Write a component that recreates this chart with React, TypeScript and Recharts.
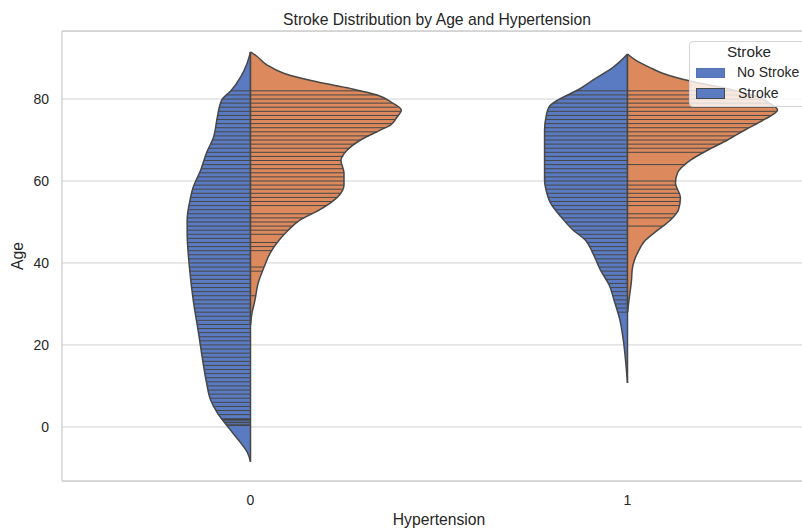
import React from "react";
import { ComposedChart, Area, XAxis, YAxis, CartesianGrid, ReferenceLine, Legend } from "recharts";

const FONT = '"Liberation Sans", Arial, Helvetica, sans-serif';
const INK = "#262626";
const BLUE = "#5a7bc2";
const ORANGE = "#dc8a5d";
const EDGE = "#474747";
const SPINE = "#cccccc";

const HYPERTENSION = [0, 1];
const AGE_TICKS = [0, 20, 40, 60, 80];
const AGE_RANGE: [number, number] = [-13.2, 96.6];
const STROKE_LABELS = ["No Stroke", "Stroke"];

// kde outline of each half violin (age, relative density)
const H0_NO_AGES = [-8.5, -6.3, -3.2, 0, 3.4, 6.6, 10.5, 14.6, 23, 31, 39, 47.3, 50.5, 54.6, 58.5, 62.7, 67, 70.7, 75.6, 79.8, 82, 85.4, 88.5, 91.5];
const H0_NO_DENSITY = [0, 0.02, 0.08, 0.15, 0.22, 0.265, 0.29, 0.31, 0.345, 0.38, 0.405, 0.42, 0.42, 0.405, 0.38, 0.33, 0.29, 0.245, 0.22, 0.19, 0.13, 0.065, 0.025, 0];

const H0_YES_AGES = [25, 27.8, 31, 35, 39, 42.4, 45.6, 48, 50.5, 53, 55.2, 56.6, 59, 62, 65, 67.5, 70, 72.4, 73.7, 75.5, 77.3, 79.3, 81, 82.6, 84.2, 86.3, 88.3, 90.5, 91.5];
const H0_YES_DENSITY = [0, 0.01, 0.03, 0.05, 0.09, 0.13, 0.19, 0.25, 0.33, 0.46, 0.55, 0.59, 0.62, 0.62, 0.6, 0.64, 0.73, 0.86, 0.93, 0.97, 1.0, 0.93, 0.84, 0.66, 0.44, 0.22, 0.11, 0.04, 0];

const H1_NO_AGES = [10.7, 16.3, 21, 26, 31, 34.5, 38.3, 42.4, 45.6, 48, 51.2, 54.6, 57.8, 60.2, 64, 68, 72.4, 75.7, 78.1, 79.8, 82.2, 84.6, 87.9, 89.5, 91];
const H1_NO_DENSITY = [0, 0.013, 0.027, 0.05, 0.09, 0.12, 0.18, 0.23, 0.28, 0.36, 0.44, 0.51, 0.54, 0.55, 0.55, 0.55, 0.55, 0.54, 0.52, 0.46, 0.33, 0.23, 0.09, 0.04, 0];

const H1_YES_AGES = [28, 31, 36, 38.3, 40.7, 42.4, 45.6, 48, 50.5, 53, 56, 59.5, 62, 65.1, 67.5, 70, 72.5, 74.9, 77.3, 79.3, 81, 82.6, 84.2, 86.3, 87.5, 89.5, 91];
const H1_YES_DENSITY = [0, 0.01, 0.027, 0.031, 0.046, 0.066, 0.12, 0.2, 0.285, 0.338, 0.351, 0.318, 0.332, 0.418, 0.53, 0.663, 0.782, 0.902, 0.995, 0.928, 0.829, 0.656, 0.438, 0.232, 0.159, 0.053, 0];

// observed ages drawn as inner sticks
const H0_NO_STICKS = [
  0.32, 0.64, 1.08, 1.48, 1.8,
  2, 3, 4, 5, 6, 7, 8, 9, 10, 11, 12, 13, 14, 15, 16, 17, 18, 19, 20, 21, 22, 23, 24, 25, 26, 27, 28, 29, 30, 31, 32, 33, 34, 35,
  36, 37, 38, 39, 40, 41, 42, 43, 44, 45, 46, 47, 48, 49, 50, 51, 52, 53, 54, 55, 56, 57, 58, 59, 60, 61, 62, 63, 64, 65, 66, 67,
  68, 69, 70, 71, 72, 73, 74, 75, 76, 77, 78, 79, 80, 81, 82,
];
const H0_YES_STICKS = [
  32, 38, 39, 43, 44, 45, 47, 48, 49, 50, 51, 52, 54, 55, 56, 57, 58, 59, 60, 61, 62, 63, 64, 65, 66, 67, 68, 69, 70, 71, 72, 73,
  74, 75, 76, 77, 78, 79, 80, 81, 82,
];
const H1_NO_STICKS = [
  28, 29, 30, 31, 32, 33, 34, 35, 36, 37, 38, 39, 40, 41, 42, 43, 44, 45, 46, 47, 48, 49, 50, 51, 52, 53, 54, 55, 56, 57, 58, 59,
  60, 61, 62, 63, 64, 65, 66, 67, 68, 69, 70, 71, 72, 73, 74, 75, 76, 77, 78, 79, 80, 81, 82,
];
const H1_YES_STICKS = [49, 51, 52, 54, 55, 56, 57, 58, 59, 60, 64, 67, 68, 69, 70, 71, 72, 73, 74, 75, 76, 77, 78, 79, 80, 81, 82];

// density 1.0 spans this much of one category slot
const HALF_WIDTH = 0.4;

interface Half {
  key: string;
  cat: number;
  side: -1 | 1;
  ages: number[];
  density: number[];
  sticks: number[];
  fill: string;
}

const HALVES: Half[] = [
  { key: "h0-no", cat: HYPERTENSION[0], side: -1, ages: H0_NO_AGES, density: H0_NO_DENSITY, sticks: H0_NO_STICKS, fill: BLUE },
  { key: "h0-yes", cat: HYPERTENSION[0], side: 1, ages: H0_YES_AGES, density: H0_YES_DENSITY, sticks: H0_YES_STICKS, fill: ORANGE },
  { key: "h1-no", cat: HYPERTENSION[1], side: -1, ages: H1_NO_AGES, density: H1_NO_DENSITY, sticks: H1_NO_STICKS, fill: BLUE },
  { key: "h1-yes", cat: HYPERTENSION[1], side: 1, ages: H1_YES_AGES, density: H1_YES_DENSITY, sticks: H1_YES_STICKS, fill: ORANGE },
];

function densityAt(ages: number[], density: number[], age: number) {
  if (age <= ages[0] || age >= ages[ages.length - 1]) return 0;
  let i = 1;
  while (ages[i] < age) i++;
  const t = (age - ages[i - 1]) / (ages[i] - ages[i - 1]);
  return density[i - 1] + t * (density[i] - density[i - 1]);
}

function outline(h: Half) {
  return h.ages.map((age, i) => {
    const edge = h.cat + h.side * h.density[i] * HALF_WIDTH;
    return { age, band: h.side < 0 ? [edge, h.cat] : [h.cat, edge] };
  });
}

function AgeLabel(props: any) {
  const { x, y, height } = props.viewBox;
  const cx = x + 11;
  const cy = y + height / 2;
  return (
    <text x={cx} y={cy} transform={`rotate(-90 ${cx} ${cy})`} textAnchor="middle" fill={INK} fontSize={15.7} fontFamily={FONT}>
      Age
    </text>
  );
}

function HypertensionLabel(props: any) {
  const { x, y, width } = props.viewBox;
  return (
    <text x={x + width / 2} y={y + 44} textAnchor="middle" fill={INK} fontSize={15.7} fontFamily={FONT}>
      Hypertension
    </text>
  );
}

function StrokeLegend() {
  const text = { position: "absolute" as const, fontSize: 14, lineHeight: "16px", whiteSpace: "nowrap" as const, color: INK };
  return (
    <div
      style={{
        position: "relative",
        width: 126,
        height: 66,
        boxSizing: "border-box",
        background: "rgba(255,255,255,0.8)",
        border: "1px solid #d4d4d4",
        borderRadius: 4,
        fontFamily: FONT,
      }}
    >
      <div style={{ position: "absolute", left: 0, width: 118, top: 1, fontSize: 15.3, lineHeight: "18px", textAlign: "center", color: INK }}>
        Stroke
      </div>
      <div style={{ position: "absolute", left: 6, top: 26, width: 29, height: 10, background: BLUE, border: "1px solid #5573b4", boxSizing: "border-box" }} />
      <div style={{ ...text, left: 47, top: 22 }}>{STROKE_LABELS[0]}</div>
      <div style={{ position: "absolute", left: 6, top: 46, width: 29, height: 11, background: BLUE, border: `1.5px solid ${EDGE}`, boxSizing: "border-box" }} />
      <div style={{ ...text, left: 48, top: 43 }}>{STROKE_LABELS[1]}</div>
    </div>
  );
}

export default function App() {
  return (
    <div style={{ position: "absolute", left: 0, top: 0, width: 802, height: 529, overflow: "hidden", background: "#fff" }}>
      <div
        style={{
          position: "absolute",
          left: 237,
          width: 400,
          top: 10,
          textAlign: "center",
          fontFamily: FONT,
          fontSize: 15.7,
          lineHeight: "20px",
          color: INK,
          zIndex: 2,
        }}
      >
        Stroke Distribution by Age and Hypertension
      </div>
      <ComposedChart width={816} height={529} layout="vertical" margin={{ top: 31, right: 0, bottom: 8, left: 12 }}>
        <CartesianGrid vertical={false} stroke="#d2d2d2" strokeWidth={1} />
        <XAxis
          type="number"
          domain={[-0.5, 1.5]}
          ticks={HYPERTENSION}
          allowDataOverflow
          height={40}
          tickLine={false}
          tickSize={6}
          tickMargin={8}
          axisLine={{ stroke: SPINE, strokeWidth: 1.25 }}
          tick={{ fill: INK, fontSize: 14, fontFamily: FONT }}
          label={<HypertensionLabel />}
        />
        <YAxis
          type="number"
          dataKey="age"
          domain={AGE_RANGE}
          ticks={AGE_TICKS}
          reversed
          allowDataOverflow
          width={50}
          tickLine={false}
          tickSize={6}
          tickMargin={7}
          axisLine={{ stroke: SPINE, strokeWidth: 1.25 }}
          tick={{ fill: INK, fontSize: 14, fontFamily: FONT }}
          label={<AgeLabel />}
        />
        <ReferenceLine y={AGE_RANGE[1]} stroke={SPINE} strokeWidth={1.25} />
        {HALVES.map((h) => (
          <Area
            key={h.key}
            data={outline(h)}
            dataKey="band"
            type="monotone"
            fill={h.fill}
            fillOpacity={1}
            stroke={EDGE}
            strokeWidth={1.5}
            dot={false}
            activeDot={false}
            isAnimationActive={false}
          />
        ))}
        {HALVES.flatMap((h) =>
          h.sticks.map((age) => {
            const edge = h.cat + h.side * densityAt(h.ages, h.density, age) * HALF_WIDTH;
            return (
              <ReferenceLine
                key={`${h.key}-${age}`}
                segment={[
                  { x: h.cat, y: age },
                  { x: edge, y: age },
                ]}
                stroke={EDGE}
                strokeWidth={1}
                ifOverflow="visible"
              />
            );
          })
        )}
        <Legend
          layout="horizontal"
          verticalAlign="middle"
          align="center"
          wrapperStyle={{ left: 689, top: 41, width: 126, height: 66 }}
          content={() => <StrokeLegend />}
        />
      </ComposedChart>
    </div>
  );
}
